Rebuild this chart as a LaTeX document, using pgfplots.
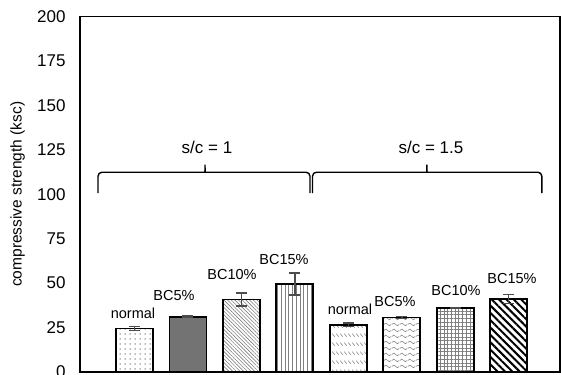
\documentclass[border=0pt]{standalone}
\usepackage{fontspec}
\setmainfont{Liberation Sans}
\usepackage{pgfplots}
\pgfplotsset{compat=1.18}
\usetikzlibrary{patterns,patterns.meta}

\tikzdeclarepattern{
  name=MyWaves, type=uncolored,
  bounding box={(0pt,0pt) and (8pt,6pt)},
  tile size={(8pt,6pt)},
  code={\draw[line width=0.6pt] (0pt,3pt) sin (2pt,4.5pt) cos (4pt,3pt) sin (6pt,1.5pt) cos (8pt,3pt);}
}
\tikzdeclarepattern{
  name=MyShingle, type=uncolored,
  bounding box={(0pt,0pt) and (4pt,8.5pt)},
  tile size={(4pt,8.5pt)},
  code={\draw[line width=0.6pt] (0.3pt,5.5pt) -- (3.3pt,2.5pt);}
}

\begin{document}
\begin{tikzpicture}
\useasboundingbox (0,0) rectangle (561pt,374pt);
\clip (0,0) rectangle (561pt,374pt);
\begin{axis}[
  at={(80pt,2pt)}, anchor=south west,
  scale only axis, width=480pt, height=355.5pt,
  xmin=-0.02, xmax=8.96, ymin=0, ymax=200,
  ytick={0,25,...,200},
  xtick=\empty,
  axis line style={line width=1.6pt},
  major tick length=0pt,
  tick label style={font=\fontsize{17}{20}\selectfont},
  /pgf/number format/assume math mode=true,
  yticklabel style={xshift=-11pt},
  ylabel={compressive strength (ksc)},
  every axis y label/.style={at={(axis description cs:-0.130,0.5)}, rotate=90, anchor=center, font=\fontsize{15.5}{18}\selectfont},
  clip=false,
  error bars/y dir=both, error bars/y explicit,
  error bars/error mark=-,
  error bars/error mark options={rotate=90, line width=1.5pt, draw=black!70, mark size=5.5pt},
  error bars/error bar style={line width=1.5pt, draw=black!70},
]
\addplot[ybar, bar width=37pt, draw=black, line width=1.8pt, pattern={Dots[distance=5pt, radius=0.75pt]}, pattern color=black!55]
  coordinates {(1,24.5) +- (0,1.2)};
\addplot[ybar, bar width=37pt, draw=black, line width=1.8pt, fill=black!55]
  coordinates {(2,31.1) +- (0,0.3)};
\addplot[ybar, bar width=37pt, draw=black, line width=1.8pt, pattern={Lines[angle=-45, distance=2.6pt, line width=0.6pt]}, pattern color=gray]
  coordinates {(3,40.8) +- (0,3.6)};
\addplot[ybar, bar width=37pt, draw=black, line width=1.8pt, pattern={Lines[angle=90, distance=3.75pt, line width=0.7pt]}, pattern color=gray]
  coordinates {(4,49.4) +- (0,6.2)};
\addplot[ybar, bar width=37pt, draw=black, line width=1.8pt, pattern=MyShingle, pattern color=gray]
  coordinates {(5,26.6) +- (0,1.0)};
\addplot[ybar, bar width=37pt, draw=black, line width=1.8pt, pattern=MyWaves, pattern color=gray]
  coordinates {(6,30.7) +- (0,0.5)};
\addplot[ybar, bar width=37pt, draw=black, line width=1.8pt, pattern={Hatch[angle=0, distance=3.7pt, line width=0.7pt]}, pattern color=gray]
  coordinates {(7,36.1) +- (0,0.3)};
\addplot[ybar, bar width=37pt, draw=black, line width=1.8pt, pattern={Lines[angle=-45, distance=5.2pt, line width=2pt]}, pattern color=black]
  coordinates {(8,41.0) +- (0,2.6)};

\begin{scope}[font=\fontsize{14.5}{17}\selectfont]
\node at (axis cs:0.972,33.1) {normal};
\node at (axis cs:1.739,43.3) {BC5\%};
\node at (axis cs:2.824,54.8) {BC10\%};
\node at (axis cs:3.797,63.2) {BC15\%};
\node at (axis cs:5.031,35.4) {normal};
\node at (axis cs:5.873,39.6) {BC5\%};
\node at (axis cs:7.015,46.0) {BC10\%};
\node at (axis cs:8.062,52.8) {BC15\%};
\end{scope}

\draw[line width=1.4pt, rounded corners=4pt] (axis cs:0.317,100.6) -- (axis cs:0.317,112.4) -- (axis cs:2.24,112.4) to[out=0,in=-90] (axis cs:2.319,118) to[out=-90,in=180] (axis cs:2.40,112.4) -- (axis cs:4.283,112.4) -- (axis cs:4.283,100.6);
\draw[line width=1.4pt, rounded corners=4pt] (axis cs:4.33,100.6) -- (axis cs:4.33,112.4) -- (axis cs:6.39,112.4) to[out=0,in=-90] (axis cs:6.47,118) to[out=-90,in=180] (axis cs:6.55,112.4) -- (axis cs:8.62,112.4) -- (axis cs:8.62,100.6);
\node[font=\fontsize{17}{20}\selectfont] at (axis cs:2.356,126.4) {s/c = 1};
\node[font=\fontsize{17}{20}\selectfont] at (axis cs:6.547,126.4) {s/c = 1.5};
\end{axis}
\end{tikzpicture}
\end{document}
